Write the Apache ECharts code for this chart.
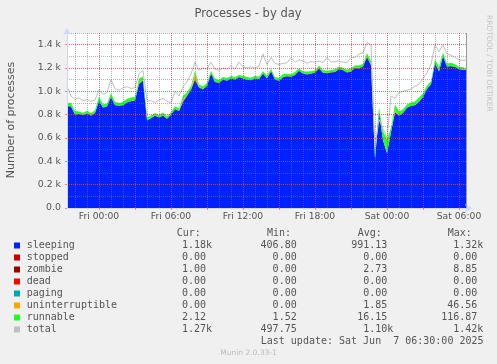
<!DOCTYPE html>
<html>
<head>
<meta charset="utf-8">
<script src="https://cdn.jsdelivr.net/npm/echarts@6/dist/echarts.min.js"></script>
<style>
html,body{margin:0;padding:0;background:#F0F0F0;}
#chart{width:497px;height:364px;}
</style>
</head>
<body>
<div id="chart"></div>
<script>
// ---- time grid: one sample every 20 minutes, first sample Thu 21:20 ----
const startMinutes = -160;   // minutes relative to Fri 00:00
const stepMinutes = 20;

// ---- series values (processes) ----
const sleeping = [
  872,870,800,805,795,810,790,815,915,860,
  870,950,880,875,880,905,915,920,1060,1090,
  750,770,790,775,790,765,800,845,830,910,
  960,1010,1100,1030,1016,1045,1150,1080,1070,1100,
  1090,1110,1100,1120,1110,1100,1095,1110,1105,1150,
  1110,1170,1100,1090,1120,1130,1125,1140,1175,1150,
  1145,1150,1160,1195,1160,1155,1160,1165,1190,1180,
  1160,1170,1200,1195,1210,1290,1220,420,820,580,
  470,650,820,790,815,860,875,880,910,950,
  1020,1060,1240,1170,1300,1210,1215,1210,1190,1185,
  1180
];
const stopped = [
  0,0,0,0,0,0,0,0,0,0, 0,0,0,0,0,0,0,0,0,0, 0,0,0,0,0,0,0,0,0,0,
  0,0,0,0,0,0,0,0,0,0, 0,0,0,0,0,0,0,0,0,0, 0,0,0,0,0,0,0,0,0,0,
  0,0,0,0,0,0,0,0,0,0, 0,0,0,0,0,0,0,0,0,0, 0,0,0,0,0,0,0,0,0,0,
  0,0,0,0,0,0,0,0,0,0, 0
];
const zombie = [
  3,3,2,2,3,3,2,2,3,3,
  3,4,3,3,3,2,2,3,4,5,
  3,2,2,3,3,2,2,3,3,3,
  4,5,6,4,3,3,4,3,3,3,
  2,3,3,3,2,2,3,3,2,3,
  3,4,3,3,3,2,2,3,3,2,
  2,3,3,2,2,3,3,3,4,3,
  3,3,4,5,6,9,8,2,1,1,
  1,1,2,2,2,2,2,3,3,3,
  2,2,3,3,2,2,2,1,1,1,
  1
];
const dead = stopped;     // 0 over the whole period (Cur/Min/Max 0.00)
const paging = stopped;   // 0 over the whole period (Cur/Min/Max 0.00)
const uninterruptible = [
  0,0,0,0,0,0,0,0,0,0,
  0,0,0,0,0,0,0,0,3,5,
  0,0,0,0,0,0,0,0,0,20,
  0,0,45,5,0,0,0,0,0,0,
  0,0,0,0,0,0,0,0,0,0,
  0,0,0,0,0,0,0,0,0,0,
  0,0,0,0,0,0,0,0,0,0,
  0,0,0,0,0,3,5,0,0,0,
  0,0,15,0,0,0,0,0,0,0,
  0,0,0,0,0,0,0,0,0,0,
  0
];
const runnable = [
  30,25,30,20,18,20,22,20,35,25,
  20,30,25,22,25,30,30,28,40,30,
  25,20,22,20,25,20,18,25,20,30,
  25,30,25,20,22,25,20,28,25,20,
  22,18,20,18,22,20,18,20,18,20,
  22,18,20,22,25,18,20,22,18,20,
  22,20,18,22,20,18,20,22,18,20,
  22,25,20,22,20,25,30,60,40,80,
  117,40,50,35,30,25,28,30,35,30,
  28,25,30,40,30,25,28,22,20,20,
  2
];
const total = [
  1045,960,930,945,920,930,915,925,1010,975,
  990,1100,1020,1010,1030,1040,1025,1030,1150,1180,
  915,920,905,925,940,915,900,1000,960,1040,
  1080,1150,1250,1180,1200,1190,1250,1190,1180,1200,
  1190,1220,1190,1250,1210,1200,1210,1200,1215,1320,
  1230,1290,1240,1230,1240,1245,1290,1250,1270,1260,
  1240,1255,1250,1260,1245,1290,1250,1255,1260,1250,
  1245,1290,1290,1320,1330,1420,1400,520,760,680,
  600,960,940,990,1000,1010,1020,1045,1060,1110,
  1160,1230,1400,1340,1400,1320,1310,1290,1270,1265,
  1270
];

// ---- axis ticks ----
const yMax = 1500;
const yMinorStep = 100;
const yMajorStep = 200;
const labelEveryMinutes = 360;  // x labels every 6 h
const majorEveryMinutes = 180;  // red grid every 3 h
const minorEveryMinutes = 60;   // grey grid every hour

// ---- legend table ----
const legendNames = ['sleeping','stopped','zombie','dead','paging','uninterruptible','runnable','total'];
const legendColors = ['#0022FF','#CC0000','#990000','#FF0000','#00AAAA','#FFA500','#22FF22','#C0C0C0'];
const curVals = ['1.18k','0.00','1.00','0.00','0.00','0.00','2.12','1.27k'];
const minVals = ['406.80','0.00','0.00','0.00','0.00','0.00','1.52','497.75'];
const avgVals = ['991.13','0.00','2.73','0.00','0.00','1.85','16.15','1.10k'];
const maxVals = ['1.32k','0.00','8.85','0.00','0.00','46.56','116.87','1.42k'];

const minutesAt = sleeping.map((_, i) => startMinutes + i * stepMinutes);
const categories = minutesAt.map(m => {
  const day = m < 0 ? 'Thu' : (m < 1440 ? 'Fri' : 'Sat');
  const mm = ((m % 1440) + 1440) % 1440;
  return day + ' ' + String(Math.floor(mm / 60)).padStart(2, '0') + ':' + String(mm % 60).padStart(2, '0');
});
const isEvery = step => (idx) => minutesAt[idx] % step === 0;

const FONT = 'DejaVu Sans';
const MONO = 'DejaVu Sans Mono';
const TXT = '#555555';
const MINOR = 'rgba(120,120,120,0.55)';
const MAJOR = 'rgba(220,70,70,0.6)';

function area(name, data, color) {
  return {
    name, type: 'line', stack: 'p', data, symbol: 'none', showSymbol: false,
    lineStyle: { width: 0 }, areaStyle: { color, opacity: 1 }, itemStyle: { color },
    z: 2, silent: true
  };
}

const graphics = [];
const T = (x, y, text, font, fill, align, extra) => Object.assign({
  type: 'text', x, y,
  style: { text, font, fill, align, verticalAlign: 'middle', textAlign: align, textVerticalAlign: 'middle' }
}, extra || {});
graphics.push(T(248, 14, 'Processes - by day', '11.5px ' + FONT, TXT, 'center'));
graphics.push(T(11, 120, 'Number of processes', '11px ' + FONT, TXT, 'center', { rotation: Math.PI / 2 }));
graphics.push(T(489, 15, 'RRDTOOL / TOBI OETIKER', '7.5px ' + FONT, '#C4C4C4', 'left', { rotation: -Math.PI / 2 }));
graphics.push({ type: 'line', shape: { x1: 466.5, y1: 33, x2: 466.5, y2: 208 }, style: { stroke: '#999999', lineWidth: 1 }, z: 20 });

const rowY0 = 245.5, rowH = 12;
const colRight = [206, 296.7, 387.3, 477.3];
const headX = [176.7, 267, 357.7, 447.7];
['Cur:', 'Min:', 'Avg:', 'Max:'].forEach((h, k) => graphics.push(T(headX[k], 233.5, h, '10px ' + MONO, TXT, 'left')));
function valText(str, xr, y) {
  const m = /^(-?[0-9.]+)(\D*)$/.exec(str);
  const num = m ? m[1] : str, suf = m ? m[2] : '';
  graphics.push(T(xr, y, num, '10px ' + MONO, TXT, 'right'));
  if (suf) graphics.push(T(xr, y, suf, '10px ' + MONO, TXT, 'left'));
}
legendNames.forEach((n, i) => {
  const y = rowY0 + i * rowH;
  graphics.push({ type: 'rect', shape: { x: 14, y: y - 3, width: 6, height: 6 }, style: { fill: legendColors[i] } });
  graphics.push(T(26.7, y, n, '10px ' + MONO, TXT, 'left'));
  valText(curVals[i], colRight[0], y);
  valText(minVals[i], colRight[1], y);
  valText(avgVals[i], colRight[2], y);
  valText(maxVals[i], colRight[3], y);
});
graphics.push(T(483.5, 341.7, 'Last update: Sat Jun  7 06:30:00 2025', '10px ' + MONO, TXT, 'right'));
graphics.push(T(248.5, 353, 'Munin 2.0.33-1', '7.5px ' + FONT, '#BBBBBB', 'center'));

function yLabel(v) {
  if (v >= yMax) return '';
  return v === 0 ? '0.0' : (v / 1000).toFixed(1) + ' k';
}

const chart = echarts.init(document.getElementById('chart'), null, { renderer: 'canvas' });
chart.setOption({
  animation: false,
  backgroundColor: '#F0F0F0',
  grid: { left: 67, top: 33, width: 400, height: 175, show: true, backgroundColor: '#FFFFFF', borderWidth: 0 },
  xAxis: [
    {
      type: 'category', data: categories, boundaryGap: false, position: 'bottom', z: 3,
      axisLine: { show: false }, axisLabel: { show: false }, axisTick: { show: false },
      splitLine: { show: true, interval: isEvery(minorEveryMinutes), lineStyle: { color: MINOR, width: 1, type: [1, 1] } }
    },
    {
      type: 'category', data: categories, boundaryGap: false, position: 'bottom', z: 6,
      axisLine: { show: true, lineStyle: { color: '#CFD6F8', width: 1 }, symbol: ['none', 'arrow'], symbolSize: [6, 7], symbolOffset: [0, 5] },
      axisTick: { show: true, interval: isEvery(majorEveryMinutes), length: 2, lineStyle: { color: MAJOR } },
      axisLabel: { show: true, interval: isEvery(labelEveryMinutes), margin: 4, fontFamily: FONT, fontSize: 9.2, color: TXT },
      splitLine: { show: true, interval: isEvery(majorEveryMinutes), lineStyle: { color: MAJOR, width: 1, type: [1, 1] } }
    }
  ],
  yAxis: [
    {
      type: 'value', min: 0, max: yMax, interval: yMinorStep, position: 'left', z: 3,
      axisLine: { show: false }, axisLabel: { show: false }, axisTick: { show: false },
      splitLine: { show: true, lineStyle: { color: MINOR, width: 1, type: [1, 1] } }
    },
    {
      type: 'value', min: 0, max: yMax, interval: yMajorStep, position: 'left', z: 5,
      axisLine: { show: true, lineStyle: { color: '#CFD6F8', width: 1 }, symbol: ['none', 'arrow'], symbolSize: [6, 7], symbolOffset: [0, 5] },
      axisTick: { show: true, length: 2, lineStyle: { color: MAJOR } },
      axisLabel: { show: true, formatter: yLabel, margin: 6, fontFamily: FONT, fontSize: 9.4, color: TXT, showMaxLabel: false },
      splitLine: { show: true, showMaxLine: false, lineStyle: { color: MAJOR, width: 1, type: [1, 1] } }
    }
  ],
  series: [
    area('sleeping', sleeping, '#0022FF'),
    area('stopped', stopped, '#CC0000'),
    area('zombie', zombie, '#990000'),
    area('dead', dead, '#FF0000'),
    area('paging', paging, '#00AAAA'),
    area('uninterruptible', uninterruptible, '#FFA500'),
    area('runnable', runnable, '#22FF22'),
    {
      name: 'total', type: 'line', data: total, symbol: 'none', showSymbol: false,
      lineStyle: { width: 1, color: '#C0C0C0' }, itemStyle: { color: '#C0C0C0' }, z: 2, silent: true
    }
  ],
  graphic: graphics
});
</script>
</body>
</html>
